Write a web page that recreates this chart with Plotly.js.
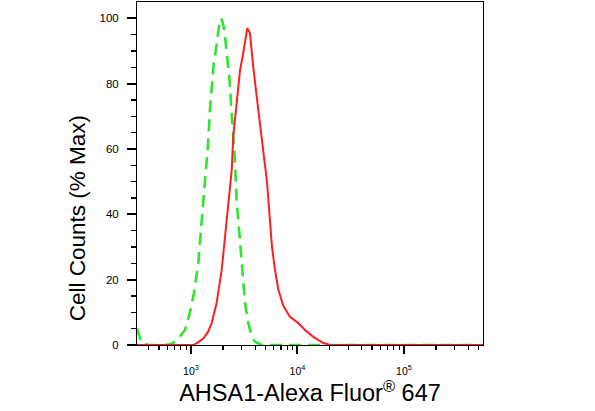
<!DOCTYPE html>
<html>
<head>
<meta charset="utf-8">
<script src="https://cdn.plot.ly/plotly-3.0.1.min.js"></script>
<style>
  html, body { margin: 0; padding: 0; background: #ffffff; }
  #chart { width: 595px; height: 411px; }
</style>
</head>
<body>
<div id="chart"></div>
<script>
// Isotype control (green dashed) – fluorescence intensity vs % max
var isoX = [311, 328, 347, 412, 570, 663, 760, 878, 979, 1067, 1171, 1260, 1354, 1435, 1508, 1620, 1743, 1832, 1913, 1976, 2054, 2164, 2289, 2375, 2464, 2589, 2675, 2781, 2993, 3214, 3451, 3740, 3991, 4612, 552000];
var isoY = [5.0, 2.5, 0.3, 0, 0, 0.3, 2, 4.6, 10, 16, 25, 38, 51, 60, 72, 85, 92, 97.5, 100, 99, 96.5, 89, 82, 74, 66, 56, 45, 38, 23, 13, 6.7, 2.5, 1.0, 0, 0];

// AHSA1 stained sample (red solid)
var sampleX = [311, 1051, 1163, 1305, 1444, 1565, 1743, 1942, 2086, 2240, 2411, 2496, 2686, 2885, 3078, 3379, 3581, 3846, 4284, 4775, 5172, 5459, 5762, 6150, 6601, 7357, 8503, 10175, 11760, 14075, 17470, 20200, 552000];
var sampleY = [0, 0, 0.8, 2, 4, 6.7, 13, 23, 33, 43.5, 53.5, 64, 74, 84, 89, 97, 95.5, 85, 72, 60, 50, 40, 30, 23, 17, 12, 8.6, 6.7, 4.6, 2.5, 0.6, 0, 0];

// Axis ticks
var xMajorTicks = [1000, 10000, 100000];
var xTickText = ['10<sup>3</sup>', '10<sup>4</sup>', '10<sup>5</sup>'];
var xMinorTicks = [400, 500, 600, 700, 800, 900,
                   2000, 3000, 4000, 5000, 6000, 7000, 8000, 9000,
                   20000, 30000, 40000, 50000, 60000, 70000, 80000, 90000,
                   200000, 300000, 400000, 500000];
var yTickVals = [0, 20, 40, 60, 80, 100];
var yTickText = ['0', '20', '40', '60', '80', '100'];
var yMinorTicks = [5, 10, 15, 25, 30, 35, 45, 50, 55, 65, 70, 75, 85, 90, 95];

var xTitle = 'AHSA1-Alexa Fluor<sup>®</sup> 647';
var yTitle = 'Cell Counts (% Max)';

var font = '"Liberation Sans", Arial, sans-serif';
var xRange = [2.493, 5.742];
var yRange = [0, 105];

var traces = [
  {
    x: isoX, y: isoY, type: 'scatter', mode: 'lines', name: 'Isotype',
    line: { color: '#2ee52e', width: 2.6, dash: '12px,7px' },
    hoverinfo: 'skip'
  },
  {
    x: sampleX, y: sampleY, type: 'scatter', mode: 'lines', name: 'AHSA1',
    line: { color: '#ff1f1f', width: 2 },
    hoverinfo: 'skip'
  }
];

var layout = {
  width: 595, height: 411,
  margin: { l: 137, r: 112, t: 2, b: 66 },
  paper_bgcolor: '#ffffff', plot_bgcolor: '#ffffff',
  showlegend: false,
  font: { family: font, color: '#000000' },
  xaxis: {
    type: 'log',
    range: xRange,
    tickmode: 'array', tickvals: xMajorTicks, ticktext: xTickText,
    showgrid: false, zeroline: false,
    showline: true, linecolor: '#000000', linewidth: 1, mirror: true,
    ticks: 'outside', ticklen: 8, tickwidth: 2, tickcolor: '#000000',
    ticklabelstandoff: 8,
    tickfont: { family: font, size: 10.5, color: '#000000' },
    minor: { tickmode: 'array', tickvals: xMinorTicks, ticks: 'outside', ticklen: 4, tickwidth: 1.2, tickcolor: '#000000', showgrid: false },
    title: { text: xTitle, font: { family: font, size: 23.5, color: '#000000' }, standoff: 6 }
  },
  yaxis: {
    range: yRange,
    tickmode: 'array', tickvals: yTickVals, ticktext: yTickText,
    showgrid: false, zeroline: false,
    showline: true, linecolor: '#000000', linewidth: 1, mirror: true,
    ticks: 'outside', ticklen: 9, tickwidth: 2, tickcolor: '#000000',
    ticklabelstandoff: 6,
    tickfont: { family: font, size: 11.5, color: '#000000' },
    minor: { tickmode: 'array', tickvals: yMinorTicks, ticks: 'outside', ticklen: 5, tickwidth: 1.2, tickcolor: '#000000', showgrid: false }
  },
  annotations: [
    {
      text: yTitle, textangle: -90, showarrow: false,
      xref: 'paper', yref: 'paper', x: -0.173, y: 0.37,
      xanchor: 'center', yanchor: 'middle',
      font: { family: font, size: 22.5, color: '#000000' }
    }
  ]
};

Plotly.newPlot('chart', traces, layout, { displayModeBar: false, staticPlot: true });
</script>
</body>
</html>
